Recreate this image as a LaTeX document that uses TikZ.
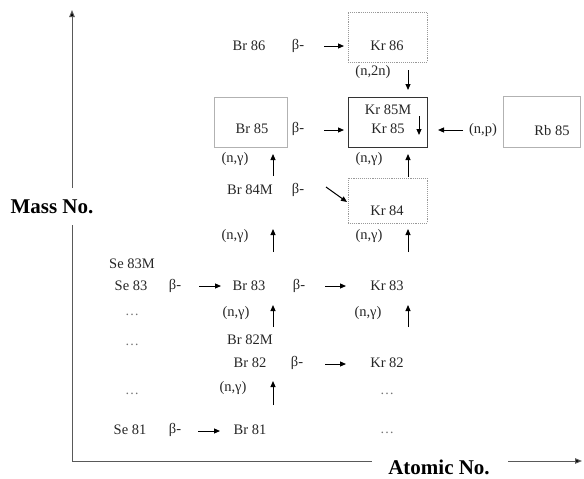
\documentclass[tikz,border=0pt]{standalone}
\usepackage{fontspec}
\setmainfont{Liberation Serif}
\usetikzlibrary{arrows.meta}
\begin{document}
\begin{tikzpicture}[x=1pt,y=-1pt,
  lbl/.style={font=\fontsize{14.5}{17}\selectfont, text=black!85, inner sep=0pt},
  dots/.style={font=\fontsize{14}{17}\selectfont, text=black!55, inner sep=0pt},
  axlbl/.style={font=\fontsize{21}{24}\selectfont\bfseries, inner sep=0pt},
  arr/.style={-{Triangle[length=6pt,width=5pt]}, line width=1pt, black},
  axis/.style={line width=1pt, black!65},
  axarr/.style={-{Triangle[length=7pt,width=5.5pt,fill=black]}},
  lightbox/.style={draw=black!30, line width=0.8pt, inner sep=0pt},
  dotbox/.style={draw=black!40, densely dotted, line width=0.9pt, inner sep=0pt},
  darkbox/.style={draw=black!80, line width=0.9pt, inner sep=0pt}]
\useasboundingbox (0,0) rectangle (584,479);
% axes
\coordinate (origin) at (72,461);
\coordinate (ylow) at (72,225);
\coordinate (yhigh) at (72,188);
\coordinate (ytop) at (72,10);
\coordinate (xleft) at (372,461);
\coordinate (xright) at (508,461);
\coordinate (xend) at (582,461);
\draw[axis] (origin) -- (ylow);
\draw[axis, axarr] (yhigh) -- (ytop);
\draw[axis] (origin) -- (xleft);
\draw[axis, axarr] (xright) -- (xend);
\node[axlbl] (massno) at (52,207) {Mass No.};
\node[axlbl] (atomno) at (439,467) {Atomic No.};
% boxes
\node[dotbox, minimum width=79pt, minimum height=50pt] (kr86box) at (387.5,37) {};
\node[darkbox, minimum width=79pt, minimum height=50pt] (kr85box) at (387.5,122) {};
\node[lightbox, minimum width=73pt, minimum height=50pt] (br85box) at (250.5,122) {};
\node[dotbox, minimum width=79pt, minimum height=45pt] (kr84box) at (387.5,200.5) {};
\node[lightbox, minimum width=77pt, minimum height=51pt] (rb85box) at (541.5,122) {};
% row 86
\node[lbl] (br86) at (249,46) {Br 86};
\node[lbl] (b86) at (298,46) {β-};
\node[lbl] (kr86) at (387,46) {Kr 86};
\node[lbl] (n2n) at (373,72) {(n,2n)};
% row 85
\node[lbl] (kr85m) at (388,110) {Kr 85M};
\node[lbl] (kr85) at (388,129) {Kr 85};
\node[lbl] (br85) at (252,129) {Br 85};
\node[lbl] (b85) at (298,129) {β-};
\node[lbl] (np) at (483,130) {(n,p)};
\node[lbl] (rb85) at (552,131) {Rb 85};
\node[lbl] (ng1) at (235,159) {(n,γ)};
\node[lbl] (ng2) at (369,159) {(n,γ)};
% row 84
\node[lbl] (br84m) at (250,190) {Br 84M};
\node[lbl] (b84) at (298,190) {β-};
\node[lbl] (kr84) at (387,211) {Kr 84};
\node[lbl] (ng3) at (235,236) {(n,γ)};
\node[lbl] (ng4) at (369,236) {(n,γ)};
% row 83
\node[lbl] (se83m) at (132,264) {Se 83M};
\node[lbl] (se83) at (131,286) {Se 83};
\node[lbl] (b83a) at (175,286) {β-};
\node[lbl] (br83) at (249,286) {Br 83};
\node[lbl] (b83b) at (299,286) {β-};
\node[lbl] (kr83) at (387,286) {Kr 83};
\node[dots] (d1) at (132,315) {…};
\node[lbl] (ng5) at (236,313) {(n,γ)};
\node[lbl] (ng6) at (368,313) {(n,γ)};
% row 82
\node[lbl] (br82m) at (250,340) {Br 82M};
\node[dots] (d2) at (132,345) {…};
\node[lbl] (br82) at (250,363) {Br 82};
\node[lbl] (b82) at (297,363) {β-};
\node[lbl] (kr82) at (387,363) {Kr 82};
\node[lbl] (ng7) at (233,388) {(n,γ)};
\node[dots] (d3) at (132,394) {…};
\node[dots] (d4) at (387,394) {…};
% row 81
\node[lbl] (se81) at (130,430) {Se 81};
\node[lbl] (b81) at (175,430) {β-};
\node[lbl] (br81) at (250,430) {Br 81};
\node[dots] (d5) at (387,433) {…};
% arrow end coordinates
\coordinate (a1s) at (324,46);  \coordinate (a1e) at (344,46);
\coordinate (a2s) at (408,70);  \coordinate (a2e) at (408,90);
\coordinate (a3s) at (419,116); \coordinate (a3e) at (419,135);
\coordinate (a4s) at (324,130); \coordinate (a4e) at (344,130);
\coordinate (a5s) at (463,130); \coordinate (a5e) at (438,130);
\coordinate (a6s) at (273,176); \coordinate (a6e) at (273,154);
\coordinate (a7s) at (408,177); \coordinate (a7e) at (408,154);
\coordinate (a8s) at (326,187); \coordinate (a8e) at (347,202);
\coordinate (a9s) at (273,252); \coordinate (a9e) at (273,229);
\coordinate (a10s) at (408,252); \coordinate (a10e) at (408,229);
\coordinate (a11s) at (199,286); \coordinate (a11e) at (221,286);
\coordinate (a12s) at (325,286); \coordinate (a12e) at (346,286);
\coordinate (a13s) at (273,327); \coordinate (a13e) at (273,305);
\coordinate (a14s) at (408,327); \coordinate (a14e) at (408,305);
\coordinate (a15s) at (325,364); \coordinate (a15e) at (346,364);
\coordinate (a16s) at (273,405); \coordinate (a16e) at (273,381);
\coordinate (a17s) at (198,431); \coordinate (a17e) at (220,431);
\foreach \i in {1,...,17} \draw[arr] (a\i s) -- (a\i e);
\end{tikzpicture}
\end{document}
